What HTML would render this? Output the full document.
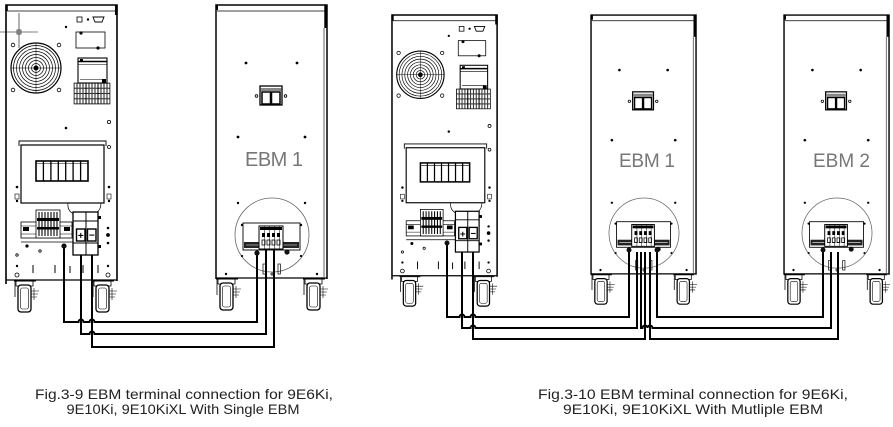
<!DOCTYPE html>
<html><head><meta charset="utf-8">
<style>
html,body{margin:0;padding:0;background:#fff;}
svg{display:block;}
</style></head>
<body>
<svg width="893" height="427" viewBox="0 0 893 427" xmlns="http://www.w3.org/2000/svg">
<defs>
<pattern id="vent" x="74" y="83" width="3" height="5.25" patternUnits="userSpaceOnUse">
<rect x="0.3" y="0.3" width="2.4" height="4.65" fill="none" stroke="#000" stroke-width="0.45"/>
</pattern>
<g id="caster" fill="none" stroke="#000">
<path d="M0,0 H22" stroke-width="1"/>
<path d="M2,0 V5 H19 V0" stroke-width="0.8"/>
<rect x="4" y="4" width="13" height="27" rx="3" stroke-width="1.3" fill="#fff"/>
<rect x="6.5" y="7" width="8" height="21" rx="2" stroke-width="0.6"/>
<path d="M17,10 H25 M17,13 H24 M17,16 H23 M20,7 V19" stroke-width="0.6"/>
<path d="M1,0 V16" stroke-width="0.8"/>
</g>
<g id="ups" fill="none" stroke="#000">
<path d="M6,284 V5 H117 V281" stroke-width="1.6"/>
<line x1="6" y1="280" x2="117" y2="280" stroke-width="1.3"/>
<line x1="7" y1="11" x2="116" y2="11" stroke-width="0.8"/>
<line x1="116.3" y1="5" x2="116.3" y2="15" stroke-width="2.6"/>
<line x1="6.6" y1="5" x2="6.6" y2="11" stroke-width="2.4"/>
<!-- fan -->
<g stroke-width="0.7">
<circle cx="36" cy="68" r="25" stroke-width="1.2"/>
<circle cx="36" cy="68" r="22.5"/>
<circle cx="36" cy="68" r="19.5"/>
<circle cx="36" cy="68" r="16.5"/>
<circle cx="36" cy="68" r="13.5"/>
<circle cx="36" cy="68" r="10.5"/>
<circle cx="36" cy="68" r="7.5"/>
<circle cx="36" cy="68" r="4.5"/>
<path d="M36,43 V93 M11,68 H61" stroke-width="0.5"/>
</g>
<circle cx="36" cy="68" r="2" fill="#000"/>
<g fill="#fff" stroke-width="0.8">
<circle cx="13" cy="45" r="1.8"/><circle cx="59" cy="45" r="1.8"/>
<circle cx="13" cy="90" r="1.8"/><circle cx="59" cy="90" r="1.8"/>
</g>
<!-- top right -->
<rect x="77" y="17" width="5" height="5" stroke-width="0.8"/>
<circle cx="88" cy="19.5" r="1.2" fill="#000" stroke="none"/>
<path d="M93,17 H104 L102,22 H95 Z" stroke-width="0.9"/>
<circle cx="66" cy="27" r="1.2" fill="#000" stroke="none"/>
<rect x="76" y="32" width="29" height="16" stroke-width="0.8"/>
<circle cx="81" cy="33" r="1.6" fill="#000" stroke="none"/>
<circle cx="98" cy="48" r="1.6" fill="#000" stroke="none"/>
<rect x="78" y="58" width="29" height="25" stroke-width="1.1"/>
<line x1="78" y1="61.5" x2="107" y2="61.5" stroke-width="1.5"/>
<line x1="78" y1="64.5" x2="107" y2="64.5" stroke-width="0.6"/>
<line x1="80" y1="79.5" x2="105" y2="79.5" stroke-width="0.6"/>
<rect x="80" y="59" width="3" height="3" fill="#000" stroke="none"/>
<rect x="102" y="79" width="4" height="4" fill="#000" stroke="none"/>
<!-- vents -->
<rect x="74" y="83" width="36" height="21" fill="url(#vent)" stroke-width="0.6"/>
<path d="M86,83 V104 M98,83 V104" stroke-width="0.9"/>
<!-- mid dots -->
<circle cx="109" cy="122" r="1.6" stroke-width="0.8"/>
<circle cx="66" cy="128" r="1.3" fill="#000" stroke="none"/>
<!-- panel -->
<path d="M19,146 V141 H106 V146" stroke-width="0.9"/>
<rect x="21" y="145" width="83" height="58" stroke-width="1.2"/>
<rect x="36" y="161" width="52" height="20" stroke-width="1.6"/>
<path d="M43.4,161 V181 M50.9,161 V181 M58.3,161 V181 M65.7,161 V181 M73.1,161 V181 M80.6,161 V181" stroke-width="1.3"/>
<line x1="36" y1="163.5" x2="88" y2="163.5" stroke-width="0.6"/>
<circle cx="109" cy="147" r="1.5" stroke-width="0.8"/>
<circle cx="17" cy="187" r="1.3" fill="#000" stroke="none"/>
<circle cx="109" cy="187" r="1.3" fill="#000" stroke="none"/>
<rect x="15" y="194" width="4" height="5" stroke-width="0.6"/>
<rect x="107" y="194" width="4" height="5" stroke-width="0.6"/>
<circle cx="17" cy="201" r="1.2" fill="#000" stroke="none"/>
<circle cx="109" cy="201" r="1.2" fill="#000" stroke="none"/>
<path d="M68,203 Q67,211 74,214 M101,203 Q101,210 96,213" stroke-width="0.7"/>
<!-- breaker rail -->
<rect x="21" y="222" width="51" height="16" stroke-width="0.8"/>
<line x1="21" y1="226" x2="72" y2="226" stroke-width="0.6"/>
<line x1="21" y1="234" x2="72" y2="234" stroke-width="0.6"/>
<line x1="21" y1="242" x2="73" y2="242" stroke-width="0.8"/>
<rect x="36" y="210" width="24" height="28" fill="#fff" stroke-width="0.8"/>
<path d="M39,212 V236 M42,212 V236 M45,212 V236 M48,212 V236 M51,212 V236 M54,212 V236 M57,212 V236" stroke-width="1.1"/>
<rect x="37" y="218" width="22" height="3" fill="#000" stroke="none"/>
<rect x="37" y="227" width="22" height="2.5" fill="#000" stroke="none"/>
<rect x="23" y="227" width="6" height="4" fill="#000" stroke="none"/>
<rect x="64" y="227" width="6" height="4" fill="#000" stroke="none"/>
<!-- terminal -->
<rect x="73" y="212" width="25" height="43" fill="#fff" stroke-width="1.3"/>
<line x1="86" y1="212" x2="86" y2="255" stroke-width="1"/>
<line x1="73" y1="221" x2="98" y2="221" stroke-width="1"/>
<line x1="73" y1="243" x2="98" y2="243" stroke-width="1"/>
<rect x="76.5" y="229" width="8.5" height="12" fill="#fff" stroke-width="1.4"/>
<rect x="87.5" y="229" width="8.5" height="12" fill="#fff" stroke-width="1.4"/>
<rect x="98" y="216" width="3" height="3" fill="#000" stroke="none"/>
<rect x="98" y="245" width="3" height="3" fill="#000" stroke="none"/>
<!-- lower dots -->
<circle cx="27" cy="246" r="1.6" fill="#000" stroke="none"/>
<circle cx="40" cy="251" r="1.2" stroke-width="0.8"/>
<circle cx="17" cy="255" r="1.2" stroke-width="0.8"/>
<circle cx="108" cy="228" r="1.3" fill="#000" stroke="none"/>
<circle cx="108" cy="235" r="1.9" fill="#000" stroke="none"/>
<circle cx="108" cy="243" r="1.3" fill="#000" stroke="none"/>
<circle cx="17" cy="266" r="1.2" fill="#000" stroke="none"/>
<circle cx="108" cy="266" r="1.2" fill="#000" stroke="none"/>
<path d="M33,265 V273 M55,265 V273 M70,266 V273 M83,265 V273 M98,265 V273" stroke-width="1"/>
<circle cx="17" cy="275" r="2" stroke-width="0.8"/>
<circle cx="108" cy="275" r="2" stroke-width="0.8"/>
<circle cx="64" cy="270" r="0.8" fill="#000" stroke="none"/>
<use href="#caster" x="14" y="281"/>
<use href="#caster" x="92" y="281"/>
</g>
<g id="ebm" fill="none" stroke="#000">
<path d="M216,279 V5 H327 V279" stroke-width="1.5"/>
<line x1="216" y1="278" x2="327" y2="278" stroke-width="1.3"/>
<line x1="217" y1="11" x2="326" y2="11" stroke-width="0.8"/>
<line x1="325.8" y1="5" x2="325.8" y2="28" stroke-width="3"/>
<line x1="216.8" y1="5" x2="216.8" y2="10" stroke-width="2.4"/>
<line x1="324" y1="28" x2="324" y2="277" stroke-width="0.6"/>
<circle cx="246" cy="63" r="1.4" fill="#000" stroke="none"/>
<circle cx="297" cy="63" r="1.4" fill="#000" stroke="none"/>
<circle cx="238" cy="137" r="1.4" fill="#000" stroke="none"/>
<circle cx="305" cy="137" r="1.4" fill="#000" stroke="none"/>
<rect x="260" y="86" width="22" height="19" fill="#fff" stroke-width="1.3"/>
<rect x="260.5" y="88" width="21" height="3" fill="#888" stroke="none"/>
<rect x="262" y="92" width="8.5" height="12" stroke-width="1.5"/>
<rect x="271.5" y="92" width="8.5" height="12" stroke-width="1.5"/>
<circle cx="256.5" cy="96" r="1.3" stroke-width="0.8"/>
<circle cx="285.5" cy="96" r="1.3" stroke-width="0.8"/>
<circle cx="272" cy="235" r="37" stroke="#666" stroke-width="0.8"/>
<circle cx="238" cy="203" r="1.2" fill="#000" stroke="none"/>
<circle cx="305" cy="203" r="1.2" fill="#000" stroke="none"/>
<rect x="243" y="223" width="57" height="27" stroke-width="0.9"/>
<rect x="244" y="242" width="55" height="6" fill="#222" stroke="none"/>
<line x1="246" y1="245" x2="297" y2="245" stroke="#fff" stroke-width="0.6"/>
<rect x="259" y="226" width="24" height="23" fill="#fff" stroke-width="1"/>
<rect x="260" y="227" width="22" height="3" fill="#000" stroke="none"/>
<path d="M262,233 h3 v4 h-3z M267,233 h3 v4 h-3z M272,233 h3 v4 h-3z M277,233 h3 v4 h-3z" fill="#000" stroke="none"/>
<path d="M262,240 h3 v5 h-3z M267,240 h3 v5 h-3z M272,240 h3 v5 h-3z M277,240 h3 v5 h-3z" stroke-width="0.8"/>
<path d="M264.5,226 V249 M269.5,226 V249 M274.5,226 V249 M279.5,226 V249" stroke-width="0.5"/>
<circle cx="242" cy="225" r="1.2" fill="#000" stroke="none"/>
<circle cx="301" cy="225" r="1.2" fill="#000" stroke="none"/>
<circle cx="242" cy="256" r="1.1" fill="#000" stroke="none"/>
<circle cx="301" cy="256" r="1.1" fill="#000" stroke="none"/>
<circle cx="287" cy="252" r="2.6" fill="#111" stroke="none"/>
<rect x="263" y="264" width="2.4" height="10" stroke-width="0.7"/>
<rect x="278" y="264" width="2.4" height="10" stroke-width="0.7"/>
<path d="M270,274 h4 M272,272 v4" stroke-width="0.8"/>
<circle cx="226" cy="274" r="1.2" fill="#000" stroke="none"/>
<circle cx="317" cy="274" r="1.2" fill="#000" stroke="none"/>
<use href="#caster" x="216" y="279"/>
<use href="#caster" x="303" y="279"/>
</g>
</defs>

<!-- ============ Figure 3-9 ============ -->
<use href="#ups"/>
<g fill="none" stroke="#000" stroke-width="0.6">
<line x1="0" y1="32" x2="38" y2="32"/>
<line x1="19" y1="13" x2="19" y2="48"/>
<rect x="17" y="30" width="4" height="4"/>
</g>
<use href="#ebm"/>
<text x="245" y="166" font-family="Liberation Sans, sans-serif" font-size="20" fill="#777" textLength="58" lengthAdjust="spacing">EBM 1</text>

<g font-family="Liberation Sans, sans-serif" font-weight="bold" font-size="10" text-anchor="middle" fill="#000">
<text x="80.8" y="239">+</text>
<text x="91.8" y="238.5">−</text>
</g>

<g fill="none" stroke="#000" stroke-width="2">
<path d="M64,246 V322 H78.5 a2.5,2.5 0 0 1 5,0 H89.5 a2.5,2.5 0 0 1 5,0 H257 V253"/>
<path d="M81,255 V334 H89.5 a2.5,2.5 0 0 1 5,0 H266 V249"/>
<path d="M92,255 V347 H274 V249"/>
</g>
<circle cx="64" cy="246" r="2.6" fill="#111"/>
<circle cx="257" cy="253" r="2.6" fill="#111"/>

<!-- ============ Figure 3-10 ============ -->
<g transform="translate(386.3,10.3) scale(0.947,0.948)">
<use href="#ups"/>
<g font-family="Liberation Sans, sans-serif" font-weight="bold" font-size="10" text-anchor="middle" fill="#000">
<text x="80.8" y="239">+</text>
<text x="91.8" y="238.5">−</text>
</g>
</g>
<g transform="translate(386.7,10.3) scale(0.946,0.948)"><use href="#ebm"/></g>
<g transform="translate(579.7,10.3) scale(0.946,0.948)"><use href="#ebm"/></g>
<text x="619" y="167" font-family="Liberation Sans, sans-serif" font-size="19" fill="#777" textLength="56" lengthAdjust="spacing">EBM 1</text>
<text x="813" y="167" font-family="Liberation Sans, sans-serif" font-size="19" fill="#777" textLength="57" lengthAdjust="spacing">EBM 2</text>

<g fill="none" stroke="#000" stroke-width="2">
<path d="M447,243 V317 H459.5 a2.5,2.5 0 0 1 5,0 H470.5 a2.5,2.5 0 0 1 5,0 H629 V250"/>
<path d="M462,252 V328 H470.5 a2.5,2.5 0 0 1 5,0 H637 V252"/>
<path d="M473,252 V339 H645 V252"/>
<path d="M641,252 V328 H642.5 a2.5,2.5 0 0 1 5,0 H647.5 a2.5,2.5 0 0 1 5,0 H831 V252"/>
<path d="M650,252 V339 H838 V252"/>
<path d="M657,250 V317 H823 V250"/>
</g>
<circle cx="447" cy="243" r="2.5" fill="#111"/>
<circle cx="629" cy="250" r="2.5" fill="#111"/>
<circle cx="657" cy="250" r="2.5" fill="#111"/>
<circle cx="823" cy="250" r="2.5" fill="#111"/>

<!-- captions -->
<g font-family="Liberation Sans, sans-serif" font-size="14" fill="#222" text-anchor="middle">
<text x="184" y="399" textLength="298" lengthAdjust="spacingAndGlyphs">Fig.3-9 EBM terminal connection for 9E6Ki,</text>
<text x="183" y="414" textLength="233" lengthAdjust="spacingAndGlyphs">9E10Ki, 9E10KiXL With Single EBM</text>
<text x="693" y="399" textLength="310" lengthAdjust="spacingAndGlyphs">Fig.3-10 EBM terminal connection for 9E6Ki,</text>
<text x="693" y="414" textLength="260" lengthAdjust="spacingAndGlyphs">9E10Ki, 9E10KiXL With Mutliple EBM</text>
</g>
</svg>
</body></html>
